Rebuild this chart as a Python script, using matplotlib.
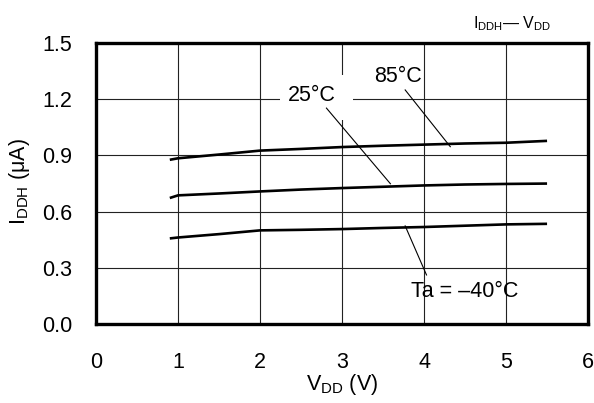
import matplotlib
matplotlib.use("Agg")
import matplotlib.pyplot as plt
from matplotlib.patches import Rectangle

plt.rcParams['font.family'] = ['Liberation Sans', 'DejaVu Sans']
plt.rcParams['mathtext.fontset'] = 'custom'
plt.rcParams['mathtext.rm'] = 'Liberation Sans'
plt.rcParams['mathtext.it'] = 'Liberation Sans'

# supply voltage (V) and current (uA)
vdd = [0.9, 1.0, 1.5, 2.0, 2.5, 3.0, 3.5, 4.0, 4.5, 5.0, 5.5]
i_85 = [0.877, 0.885, 0.905, 0.926, 0.935, 0.945, 0.952, 0.958, 0.964, 0.968, 0.978]
i_25 = [0.673, 0.687, 0.697, 0.708, 0.718, 0.726, 0.733, 0.740, 0.745, 0.748, 0.750]
i_m40 = [0.457, 0.462, 0.480, 0.500, 0.503, 0.507, 0.513, 0.518, 0.525, 0.532, 0.535]

xticks = [0, 1, 2, 3, 4, 5, 6]
yticks = [0.0, 0.3, 0.6, 0.9, 1.2, 1.5]

fs = 15.5

fig = plt.figure(figsize=(5.94, 4.03), dpi=100)
ax = fig.add_axes([0.1616, 0.196, 0.8284, 0.697])

for ys in (i_85, i_25, i_m40):
    ax.plot(vdd, ys, color='black', lw=1.9, solid_capstyle='butt', zorder=3)

ax.set_xlim(0, 6)
ax.set_ylim(0, 1.5)
ax.set_xticks(xticks)
ax.set_yticks(yticks)
ax.set_xticklabels([str(t) for t in xticks])
ax.set_yticklabels(['%.1f' % t for t in yticks])
ax.grid(True, color='#222222', lw=0.8)
ax.tick_params(length=0, labelsize=fs)
ax.tick_params(axis='y', pad=17)
ax.tick_params(axis='x', pad=20)
for s in ax.spines.values():
    s.set_linewidth(2.4)

# white patch behind the 25C label (hides the grid there)
ax.add_patch(Rectangle((2.24, 1.09), 0.89, 0.24, facecolor='white',
                       edgecolor='none', zorder=1.6))

# labels with leader lines
ax.text(3.68, 1.32, '85°C', fontsize=fs, ha='center', va='center', zorder=4)
ax.plot([3.77, 4.32], [1.25, 0.947], color='black', lw=0.8, zorder=2)
ax.text(2.63, 1.219, '25°C', fontsize=fs, ha='center', va='center', zorder=4)
ax.plot([2.81, 3.59], [1.153, 0.749], color='black', lw=0.8, zorder=2)
ax.text(4.5, 0.173, 'Ta = \u201340°C', fontsize=fs, ha='center', va='center', zorder=4)
ax.plot([3.77, 4.03], [0.524, 0.262], color='black', lw=0.8, zorder=2)

fig.text(0.032, 0.55, r'I$_{\mathrm{DDH}}$ ($\mathrm{\mu}$A)', rotation=90,
         fontsize=fs, ha='center', va='center')
fig.text(0.576, 0.046, r'V$_{\mathrm{DD}}$ (V)', fontsize=fs, ha='center', va='center')
fig.text(0.862, 0.942, r'I$_{\mathrm{DDH}}$— V$_{\mathrm{DD}}$', fontsize=11.5,
         ha='center', va='center')

fig.savefig('out.png', dpi=100)
